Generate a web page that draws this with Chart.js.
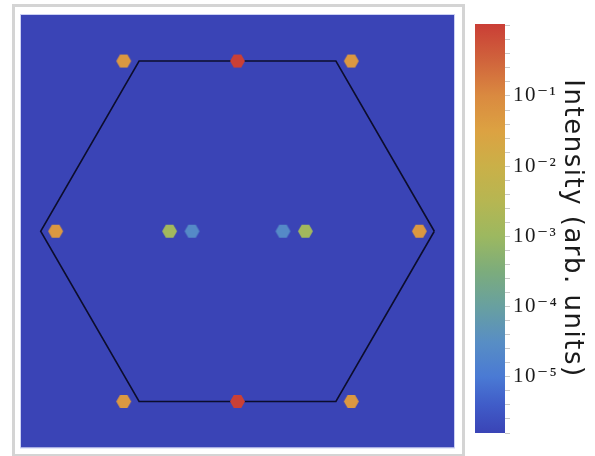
<!DOCTYPE html>
<html>
<head>
<meta charset="utf-8">
<script src="https://cdn.jsdelivr.net/npm/chart.js@4.4.1/dist/chart.umd.min.js"></script>
<style>
  body { margin: 0; background: #fff; width: 595px; height: 456px; overflow: hidden; position: relative; }
  canvas { position: absolute; top: 0; }
  #peaks { left: 0; }
  #colorbar { left: 470px; }
</style>
</head>
<body>
<canvas id="peaks" width="470" height="456"></canvas>
<canvas id="colorbar" width="125" height="456"></canvas>
<script>
// Bragg peaks: position in units of the zone-corner distance, intensity in arb. units
const peakX = [-0.578, 0, 0.578, -0.924, -0.345, -0.231, 0.231, 0.345, 0.924, -0.578, 0, 0.578];
const peakY = [0.866, 0.866, 0.866, 0, 0, 0, 0, 0, 0, -0.866, -0.866, -0.866];
const peakI = [0.05, 1.0, 0.05, 0.05, 1.3e-3, 2.5e-5, 2.5e-5, 1.3e-3, 0.05, 0.05, 1.0, 0.05];

// hexagonal zone boundary (closed)
const zoneX = [1, 0.5, -0.5, -1, -0.5, 0.5, 1];
const zoneY = [0, 0.866, 0.866, 0, -0.866, -0.866, 0];

// colour bar range and labels, log10(intensity)
const logMin = -5.8;
const logMax = 0.025;
const tickExponents = [-1, -2, -3, -4, -5];
const tickLabels = ['10⁻¹', '10⁻²', '10⁻³', '10⁻⁴', '10⁻⁵'];

// colour map, [log10 value, r, g, b]
const colorStops = [
    [-5.8, 58, 68, 182],
    [-5.4, 64, 92, 200],
    [-5.0, 74, 122, 212],
    [-4.5, 88, 142, 196],
    [-4.0, 104, 160, 160],
    [-3.5, 124, 172, 124],
    [-3.0, 156, 184, 96],
    [-2.5, 182, 182, 82],
    [-2.0, 202, 176, 72],
    [-1.5, 220, 162, 66],
    [-1.0, 218, 138, 64],
    [-0.5, 208, 100, 60],
    [0.025, 202, 62, 54]
];

function mapColor(logv) {
    const v = Math.min(logMax, Math.max(logMin, logv));
    for (let i = 1; i < colorStops.length; i++) {
        const a = colorStops[i - 1], b = colorStops[i];
        if (v <= b[0]) {
            const t = (v - a[0]) / (b[0] - a[0]);
            const c = [1, 2, 3].map(k => Math.round(a[k] + (b[k] - a[k]) * t));
            return `rgb(${c[0]}, ${c[1]}, ${c[2]})`;
        }
    }
    const l = colorStops[colorStops.length - 1];
    return `rgb(${l[1]}, ${l[2]}, ${l[3]})`;
}

// flat-topped hexagon used as marker
function hexMarker(color, r) {
    const c = document.createElement('canvas');
    const s = Math.ceil(2 * r + 2);
    c.width = s;
    c.height = s;
    const g = c.getContext('2d');
    g.fillStyle = color;
    g.beginPath();
    for (let k = 0; k < 6; k++) {
        const a = k * Math.PI / 3;
        g.lineTo(s / 2 + r * Math.cos(a), s / 2 + r * Math.sin(a));
    }
    g.closePath();
    g.fill();
    return c;
}

const markers = peakI.map(v => hexMarker(mapColor(Math.log10(v)), 7.5));

// grey frame and the empty (lowest intensity) background
const framePlugin = {
    id: 'frame',
    beforeDraw(chart) {
        const { ctx, chartArea: a } = chart;
        ctx.save();
        ctx.strokeStyle = '#d4d4d4';
        ctx.lineWidth = 3;
        ctx.strokeRect(13.5, 5.5, 450, 450);
        ctx.fillStyle = mapColor(logMin);
        ctx.fillRect(a.left, a.top, a.width, a.height);
        ctx.strokeStyle = 'rgba(190, 196, 240, 0.8)';
        ctx.lineWidth = 1;
        ctx.strokeRect(a.left - 0.5, a.top - 0.5, a.width + 1, a.height + 1);
        ctx.restore();
    }
};

new Chart(document.getElementById('peaks'), {
    type: 'scatter',
    data: {
        datasets: [
            {
                data: peakX.map((x, i) => ({ x, y: peakY[i] })),
                pointStyle: markers,
                pointRadius: 7.5,
                order: 0
            },
            {
                data: zoneX.map((x, i) => ({ x, y: zoneY[i] })),
                showLine: true,
                borderColor: 'rgba(8, 8, 30, 0.9)',
                borderWidth: 1.6,
                pointRadius: 0,
                fill: false,
                order: 1
            }
        ]
    },
    options: {
        responsive: false,
        animation: false,
        layout: { padding: { left: 21, top: 15, right: 16, bottom: 8 } },
        scales: {
            x: { type: 'linear', min: -1.1, max: 1.1, display: false },
            y: { type: 'linear', min: -1.1, max: 1.1, display: false }
        },
        plugins: { legend: { display: false }, tooltip: { enabled: false } }
    },
    plugins: [framePlugin]
});

// gradient strip filled through the colour bar's own scale; text gets a little tracking
const gradientPlugin = {
    id: 'gradient',
    beforeDraw(chart) {
        chart.ctx.letterSpacing = '1.5px';
    },
    beforeDatasetsDraw(chart) {
        const { ctx, chartArea: a, scales: { y } } = chart;
        const g = ctx.createLinearGradient(0, y.getPixelForValue(logMin), 0, y.getPixelForValue(logMax));
        colorStops.forEach(s => {
            g.addColorStop((s[0] - logMin) / (logMax - logMin), `rgb(${s[1]}, ${s[2]}, ${s[3]})`);
        });
        ctx.save();
        ctx.fillStyle = g;
        ctx.fillRect(a.left, a.top, a.width, a.height);
        ctx.restore();
    }
};

new Chart(document.getElementById('colorbar'), {
    type: 'scatter',
    data: { datasets: [] },
    options: {
        responsive: false,
        animation: false,
        layout: { padding: { left: 5, top: 24, right: 0, bottom: 23 } },
        scales: {
            x: { type: 'linear', min: 0, max: 1, display: false },
            y: {
                type: 'linear',
                position: 'right',
                min: logMin,
                max: logMax,
                afterBuildTicks: scale => {
                    const t = [];
                    for (let v = logMin; v <= 0.0001; v += 0.2) t.push({ value: Math.round(v * 10) / 10 });
                    scale.ticks = t;
                },
                afterFit: scale => { scale.width = 90; },
                border: { display: false },
                grid: { drawOnChartArea: false, color: '#c8c8c8', tickLength: 5 },
                ticks: {
                    autoSkip: false,
                    padding: 3,
                    color: '#1a1a1a',
                    font: { family: "'Liberation Serif', 'DejaVu Serif', serif", size: 21 },
                    callback: v => {
                        const i = tickExponents.indexOf(Math.round(v));
                        return (i >= 0 && Math.abs(v - Math.round(v)) < 1e-6) ? tickLabels[i] : '';
                    }
                },
                title: {
                    display: true,
                    text: 'Intensity (arb. units)',
                    color: '#1a1a1a',
                    font: { family: "'DejaVu Sans', sans-serif", size: 26 },
                    padding: { top: 8, bottom: 0 }
                }
            }
        },
        plugins: { legend: { display: false }, tooltip: { enabled: false } }
    },
    plugins: [gradientPlugin]
});
</script>
</body>
</html>
